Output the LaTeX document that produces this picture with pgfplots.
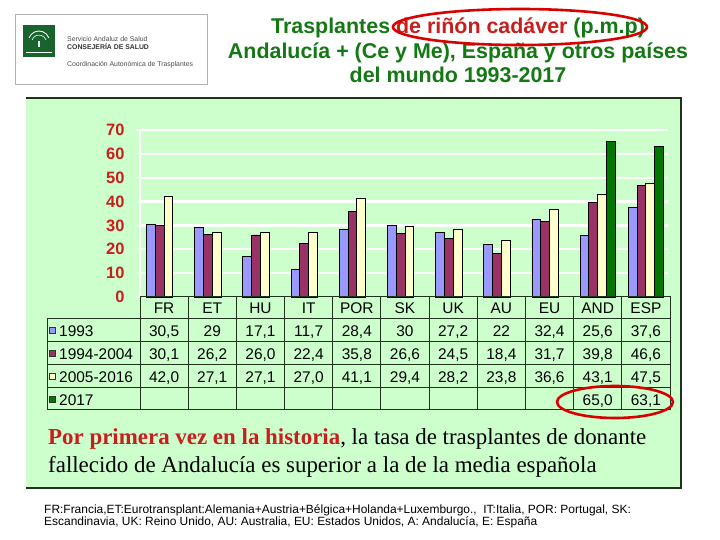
\documentclass[border=0pt]{standalone}
\usepackage{pgfplots}
\pgfplotsset{compat=1.18}
\usepackage{fontspec}
\setmainfont{Liberation Sans}
\newfontfamily\serifont{Liberation Serif}
\definecolor{bggreen}{RGB}{204,255,204}
\definecolor{titlegreen}{RGB}{20,120,20}
\definecolor{tickred}{RGB}{200,30,30}
\definecolor{cA}{RGB}{153,153,255}
\definecolor{cB}{RGB}{153,51,102}
\definecolor{cC}{RGB}{255,255,204}
\definecolor{cD}{RGB}{0,120,0}
\definecolor{tabline}{RGB}{30,50,30}
\definecolor{logogreen}{RGB}{25,100,45}
\begin{document}
\begin{tikzpicture}
\useasboundingbox (0bp,0bp) rectangle (720bp,540bp);
\begin{scope}[x=1bp,y=1bp]
% green panel
\fill[bggreen] (26,52) rectangle (681,442);
\draw[tabline, line width=1.2bp] (26,442) -- (681,442) -- (681,52) -- (26,52);
% logo
\draw[gray!60, line width=0.6bp] (15,526) rectangle (207,456);
\fill[logogreen] (23,515) rectangle (55,483);
\draw[white, line width=0.9bp] (29,502) arc (160:20:10.6);
\draw[white, line width=0.6bp] (32,500) arc (160:20:7.5);
\fill[white] (38,493) rectangle (40,499);
\draw[white, line width=0.3bp] (26,488) -- (52,488);
\node[anchor=base west, inner sep=0, text=black!70, font=\fontsize{6.9}{8}\selectfont] at (67,498) {Servicio Andaluz de Salud};
\node[anchor=base west, inner sep=0, text=black!80, font=\bfseries\fontsize{6.9}{8}\selectfont] at (67,490) {CONSEJERÍA DE SALUD};
\node[anchor=base west, inner sep=0, text=black!70, font=\fontsize{6.9}{8}\selectfont] at (67,473) {Coordinación Autonómica de Trasplantes};
% title
\node[align=center, inner sep=0, text=titlegreen, font=\bfseries\fontsize{21.5}{25}\selectfont, anchor=base] at (458,457) {Trasplantes \textcolor{tickred}{de riñón cadáver} (p.m.p)\\Andalucía + (Ce y Me), España y otros países\\del mundo 1993-2017};
\draw[red!85!black, line width=2.6bp] (520,513) ellipse [x radius=127, y radius=18];
% white grid lines and left line of the plot area
\draw[white, line width=2.2bp] (140,266.86) -- (668,266.86);
\draw[white, line width=2.2bp] (140,290.71) -- (668,290.71);
\draw[white, line width=2.2bp] (140,314.57) -- (668,314.57);
\draw[white, line width=2.2bp] (140,338.43) -- (668,338.43);
\draw[white, line width=2.2bp] (140,362.29) -- (668,362.29);
\draw[white, line width=2.2bp] (140,386.14) -- (668,386.14);
\draw[white, line width=2.2bp] (140,410) -- (668,410);
\draw[white, line width=2bp] (140,243) -- (140,410);
\end{scope}
% chart
\begin{axis}[
  at={(140bp,243bp)}, anchor=south west,
  scale only axis, width=530bp, height=167bp,
  xmin=-0.5, xmax=10.5, ymin=0, ymax=70,
  ybar=0pt, bar width=8.8bp,
  axis line style={draw=none},
  ytick={0,10,...,70}, xtick=\empty, ytick pos=left,
  ytick style={white, line width=1.2bp},
  tick align=outside, major tick length=4bp,
  yticklabel style={font=\bfseries\fontsize{16.5}{16.5}\selectfont, text=tickred, xshift=-8bp},
  /pgf/number format/assume math mode=true,
  clip=false,
]
\addplot[fill=cA, draw=black, line width=0.9bp] coordinates {(0,30.5) (1,29) (2,17.1) (3,11.7) (4,28.4) (5,30) (6,27.2) (7,22) (8,32.4) (9,25.6) (10,37.6)};
\addplot[fill=cB, draw=black, line width=0.9bp] coordinates {(0,30.1) (1,26.2) (2,26.0) (3,22.4) (4,35.8) (5,26.6) (6,24.5) (7,18.4) (8,31.7) (9,39.8) (10,46.6)};
\addplot[fill=cC, draw=black, line width=0.9bp] coordinates {(0,42.0) (1,27.1) (2,27.1) (3,27.0) (4,41.1) (5,29.4) (6,28.2) (7,23.8) (8,36.6) (9,43.1) (10,47.5)};
\addplot[fill=cD, draw=black, line width=0.9bp] coordinates {(9,65.0) (10,63.1)};
\end{axis}
\begin{scope}[x=1bp,y=1bp]
% data table
\def\cw{48.1818}
\draw[tabline, line width=1bp] (140,243) rectangle (670,130);
\draw[tabline, line width=1bp] (47,221) rectangle (140,130);
\foreach \yy in {221,198,175,152} \draw[tabline, line width=1bp] (47,\yy) -- (670,\yy);
\foreach \k in {1,...,10} \draw[tabline, line width=1bp] ({140+\k*\cw},243) -- ({140+\k*\cw},130);
\begin{scope}[every node/.style={inner sep=0, font=\fontsize{15.5}{15.5}\selectfont, anchor=base}]
\foreach \lab [count=\i from 0] in {FR,ET,HU,IT,POR,SK,UK,AU,EU,AND,ESP}
  \node at ({140+(\i+0.5)*\cw},227) {\lab};
\foreach \lab [count=\i from 0] in {{30,5},{29},{17,1},{11,7},{28,4},{30},{27,2},{22},{32,4},{25,6},{37,6}}
  \node at ({140+(\i+0.5)*\cw},204) {\lab};
\foreach \lab [count=\i from 0] in {{30,1},{26,2},{26,0},{22,4},{35,8},{26,6},{24,5},{18,4},{31,7},{39,8},{46,6}}
  \node at ({140+(\i+0.5)*\cw},181) {\lab};
\foreach \lab [count=\i from 0] in {{42,0},{27,1},{27,1},{27,0},{41,1},{29,4},{28,2},{23,8},{36,6},{43,1},{47,5}}
  \node at ({140+(\i+0.5)*\cw},158) {\lab};
\node at ({140+9.5*\cw},135) {65,0};
\node at ({140+10.5*\cw},135) {63,1};
\node[anchor=base west] at (59,204) {1993};
\node[anchor=base west] at (59,181) {1994-2004};
\node[anchor=base west] at (59,158) {2005-2016};
\node[anchor=base west] at (59,135) {2017};
\end{scope}
\foreach \yy/\cc in {209.5/cA,186.5/cB,163.5/cC,140.5/cD}
  \draw[black!80, fill=\cc, line width=0.5bp] (49.5,\yy-3) rectangle (55.5,\yy+3);
\draw[red!85!black, line width=2.6bp] (615,138) ellipse [x radius=58, y radius=16];
% message
\node[anchor=base west, inner sep=0, font=\serifont\fontsize{23}{28}\selectfont, align=left] at (48,68) {\textcolor{tickred}{\bfseries Por primera vez en la historia}, la tasa de trasplantes de donante\\fallecido de Andalucía es superior a la de la media española};
% footnote
\node[anchor=base west, inner sep=0, font=\fontsize{12}{12}\selectfont, align=left] at (44,15) {FR:Francia,ET:Eurotransplant:Alemania+Austria+Bélgica+Holanda+Luxemburgo.,\ \ IT:Italia, POR: Portugal, SK:\\Escandinavia, UK: Reino Unido, AU: Australia, EU: Estados Unidos, A: Andalucía, E: España};
\end{scope}
\end{tikzpicture}
\end{document}
